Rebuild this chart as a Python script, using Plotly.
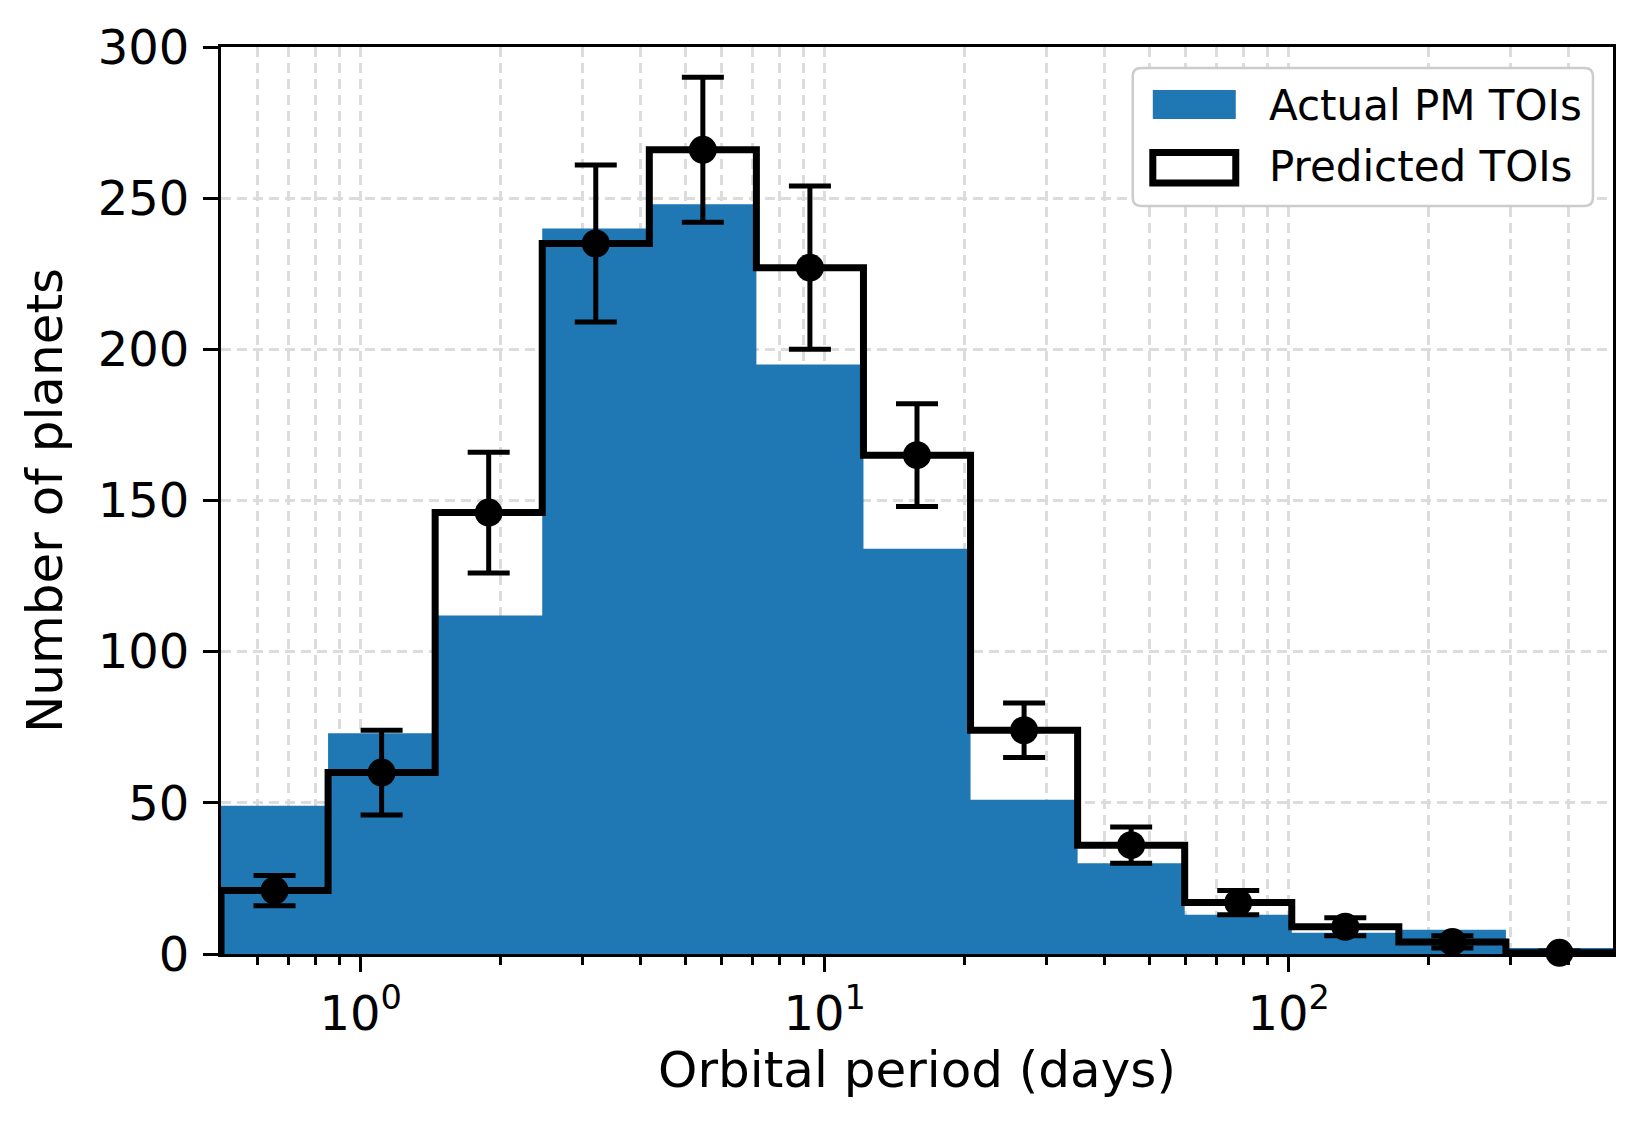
import numpy as np
import plotly.graph_objects as go

# histogram bins (log spaced), counts per bin
bin_edges = np.logspace(np.log10(0.5), np.log10(500), 14)
actual_counts = [49, 73, 112, 240, 248, 195, 134, 51, 30, 13, 7, 8, 2]
predicted_counts = [21, 60, 146, 235, 266, 227, 165, 74, 36, 17, 9, 4, 0.4]
predicted_upper = [26, 74, 166, 261, 290, 254, 182, 83, 42, 21, 12, 6, 1]
predicted_lower = [16, 46, 126, 209, 242, 200, 148, 65, 30, 13, 6, 2, 0]

BLUE = "#1f77b4"
GRID = "#dcdcdc"

centers = np.sqrt(bin_edges[:-1] * bin_edges[1:])
err_plus = [u - p for u, p in zip(predicted_upper, predicted_counts)]
err_minus = [p - l for p, l in zip(predicted_counts, predicted_lower)]

fig = go.Figure()

# actual PM TOIs: filled histogram
fig.add_trace(go.Scatter(
    x=bin_edges, y=actual_counts + [actual_counts[-1]],
    mode="lines", line=dict(width=0, shape="hv", color=BLUE),
    fill="tozeroy", fillcolor=BLUE, showlegend=False, hoverinfo="skip",
))

# predicted TOIs: step outline
step_x = [bin_edges[0]] + list(bin_edges[:-1]) + [bin_edges[-1]]
step_y = [0] + predicted_counts + [0]
fig.add_trace(go.Scatter(
    x=step_x, y=step_y, mode="lines",
    line=dict(width=7, shape="hv", color="black"), showlegend=False,
))

# predicted means with error bars
fig.add_trace(go.Scatter(
    x=centers, y=predicted_counts, mode="markers",
    marker=dict(size=28, color="black"),
    error_y=dict(type="data", array=err_plus, arrayminus=err_minus,
                 thickness=5, width=21, color="black"),
    showlegend=False, cliponaxis=False,
))

minor_vals = [m * 10 ** k for k in (-1, 0, 1, 2) for m in range(2, 10)
              if 0.5 < m * 10 ** k < 500]

axis_common = dict(
    showline=True, linecolor="black", linewidth=3, mirror=True,
    ticks="outside", ticklen=15, tickwidth=3, tickcolor="black",
    showgrid=True, gridcolor=GRID, gridwidth=2.5, griddash="10px,6px",
    zeroline=False, tickfont=dict(size=48),
)

fig.update_xaxes(
    type="log", range=[np.log10(0.5), np.log10(500)],
    tickvals=[1, 10, 100],
    ticktext=["10<sup>0</sup>", "10<sup>1</sup>", "10<sup>2</sup>"],
    minor=dict(tickvals=minor_vals, ticks="outside", ticklen=8, tickwidth=2.5,
               tickcolor="black", showgrid=True, gridcolor=GRID,
               gridwidth=2.5, griddash="10px,6px"),
    title=dict(text="Orbital period (days)", font=dict(size=50), standoff=13),
    **axis_common,
)
fig.update_yaxes(
    range=[0, 300], tickvals=[0, 50, 100, 150, 200, 250, 300],
    ticklabelstandoff=4,
    title=dict(text="Number of planets", font=dict(size=50), standoff=20),
    **axis_common,
)

# legend drawn by hand to mimic the boxed matplotlib legend
x0, x1, y0, y1 = 0.655, 0.9856, 0.8247, 0.9769
rx, ry = 0.006, 0.009
box_path = (f"M {x0+rx},{y0} L {x1-rx},{y0} Q {x1},{y0} {x1},{y0+ry} "
            f"L {x1},{y1-ry} Q {x1},{y1} {x1-rx},{y1} L {x0+rx},{y1} "
            f"Q {x0},{y1} {x0},{y1-ry} L {x0},{y0+ry} Q {x0},{y0} {x0+rx},{y0} Z")
fig.add_shape(type="path", xref="paper", yref="paper", path=box_path,
              line=dict(color="#cccccc", width=2.5), fillcolor="white",
              layer="above")
fig.add_shape(type="rect", xref="paper", yref="paper",
              x0=0.6694, x1=0.7290, y0=0.9206, y1=0.9526,
              line=dict(width=0), fillcolor=BLUE, layer="above")
fig.add_shape(type="rect", xref="paper", yref="paper",
              x0=0.6694, x1=0.7290, y0=0.850, y1=0.8837,
              line=dict(color="black", width=7), fillcolor="white",
              layer="above")
fig.add_annotation(xref="paper", yref="paper", x=0.7513, y=0.936,
                   text="Actual PM TOIs", showarrow=False, xanchor="left",
                   yanchor="middle", font=dict(size=42, color="black"))
fig.add_annotation(xref="paper", yref="paper", x=0.7513, y=0.868,
                   text="Predicted TOIs", showarrow=False, xanchor="left",
                   yanchor="middle", font=dict(size=42, color="black"))

# page body has an 8px margin, so the figure is a bit smaller than the window
fig.update_layout(
    width=1636, height=1120,
    margin=dict(l=213, r=31, t=39, b=174, autoexpand=False),
    paper_bgcolor="white", plot_bgcolor="white",
    font=dict(family="DejaVu Sans", size=48, color="black"),
    showlegend=False,
)

fig.write_html("out.html")
